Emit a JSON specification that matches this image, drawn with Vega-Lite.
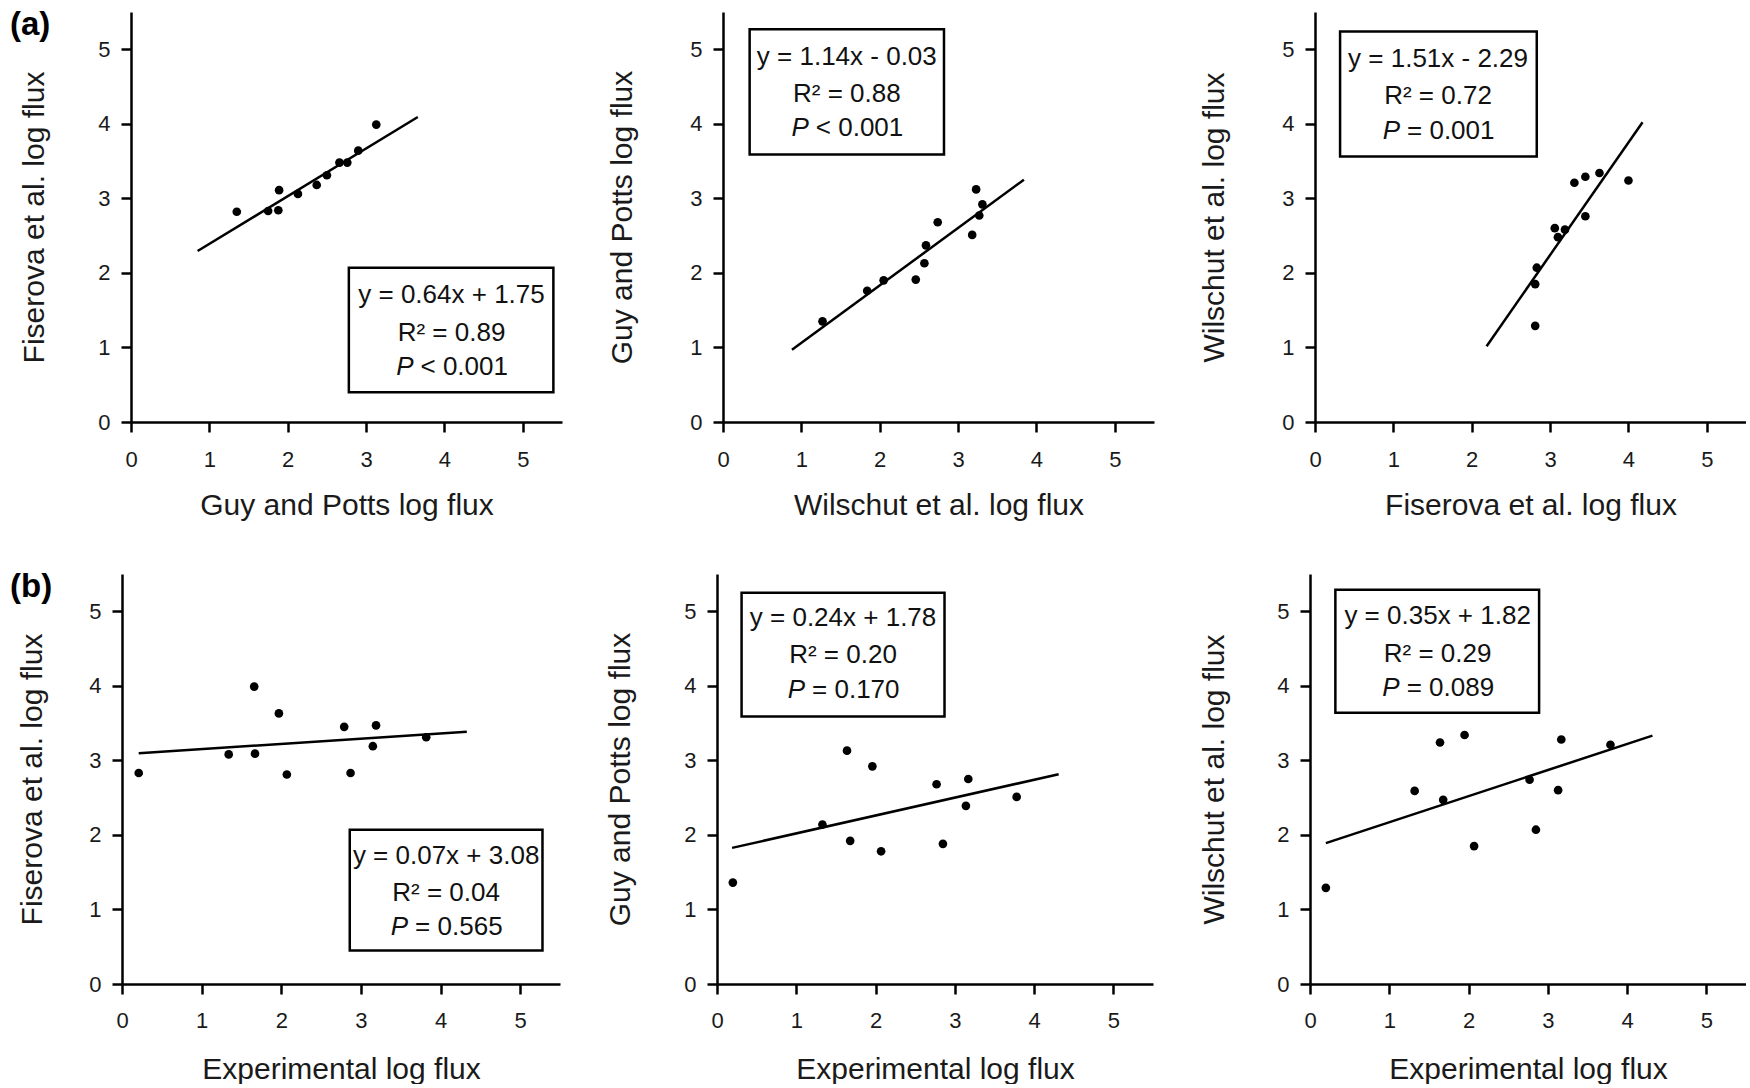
{
  "$schema": "https://vega.github.io/schema/vega-lite/v6.json",
  "background": "white",
  "padding": {"left": 10, "top": 9, "right": 0, "bottom": 0},
  "autosize": {"type": "pad"},
  "datasets": {
    "points": [
      {"panel": "a1", "x": 1.35, "y": 2.82}, {"panel": "a1", "x": 1.75, "y": 2.83}, {"panel": "a1", "x": 1.88, "y": 2.84},
      {"panel": "a1", "x": 1.89, "y": 3.11}, {"panel": "a1", "x": 2.13, "y": 3.06}, {"panel": "a1", "x": 2.37, "y": 3.18},
      {"panel": "a1", "x": 2.50, "y": 3.31}, {"panel": "a1", "x": 2.66, "y": 3.48}, {"panel": "a1", "x": 2.76, "y": 3.48},
      {"panel": "a1", "x": 2.90, "y": 3.64}, {"panel": "a1", "x": 3.13, "y": 3.99},

      {"panel": "a2", "x": 1.27, "y": 1.35}, {"panel": "a2", "x": 1.84, "y": 1.76}, {"panel": "a2", "x": 2.05, "y": 1.90},
      {"panel": "a2", "x": 2.46, "y": 1.91}, {"panel": "a2", "x": 2.57, "y": 2.13}, {"panel": "a2", "x": 2.59, "y": 2.37},
      {"panel": "a2", "x": 2.74, "y": 2.68}, {"panel": "a2", "x": 3.18, "y": 2.51}, {"panel": "a2", "x": 3.23, "y": 3.12},
      {"panel": "a2", "x": 3.27, "y": 2.77}, {"panel": "a2", "x": 3.31, "y": 2.92},

      {"panel": "a3", "x": 2.81, "y": 1.29}, {"panel": "a3", "x": 2.81, "y": 1.85}, {"panel": "a3", "x": 2.83, "y": 2.07},
      {"panel": "a3", "x": 3.06, "y": 2.60}, {"panel": "a3", "x": 3.10, "y": 2.48}, {"panel": "a3", "x": 3.19, "y": 2.58},
      {"panel": "a3", "x": 3.31, "y": 3.21}, {"panel": "a3", "x": 3.45, "y": 3.29}, {"panel": "a3", "x": 3.45, "y": 2.76},
      {"panel": "a3", "x": 3.63, "y": 3.34}, {"panel": "a3", "x": 4.00, "y": 3.24},

      {"panel": "b1", "x": 0.21, "y": 2.83}, {"panel": "b1", "x": 1.34, "y": 3.08}, {"panel": "b1", "x": 1.66, "y": 3.99},
      {"panel": "b1", "x": 1.67, "y": 3.09}, {"panel": "b1", "x": 1.97, "y": 3.63}, {"panel": "b1", "x": 2.07, "y": 2.81},
      {"panel": "b1", "x": 2.79, "y": 3.45}, {"panel": "b1", "x": 2.87, "y": 2.83}, {"panel": "b1", "x": 3.15, "y": 3.19},
      {"panel": "b1", "x": 3.19, "y": 3.47}, {"panel": "b1", "x": 3.82, "y": 3.31},

      {"panel": "b2", "x": 0.20, "y": 1.36}, {"panel": "b2", "x": 1.33, "y": 2.14}, {"panel": "b2", "x": 1.64, "y": 3.13},
      {"panel": "b2", "x": 1.68, "y": 1.92}, {"panel": "b2", "x": 1.96, "y": 2.92}, {"panel": "b2", "x": 2.07, "y": 1.78},
      {"panel": "b2", "x": 2.77, "y": 2.68}, {"panel": "b2", "x": 2.85, "y": 1.88}, {"panel": "b2", "x": 3.14, "y": 2.39},
      {"panel": "b2", "x": 3.17, "y": 2.75}, {"panel": "b2", "x": 3.78, "y": 2.51},

      {"panel": "b3", "x": 0.20, "y": 1.29}, {"panel": "b3", "x": 1.32, "y": 2.59}, {"panel": "b3", "x": 1.64, "y": 3.24},
      {"panel": "b3", "x": 1.68, "y": 2.47}, {"panel": "b3", "x": 1.95, "y": 3.34}, {"panel": "b3", "x": 2.07, "y": 1.85},
      {"panel": "b3", "x": 2.77, "y": 2.74}, {"panel": "b3", "x": 2.85, "y": 2.07}, {"panel": "b3", "x": 3.13, "y": 2.60},
      {"panel": "b3", "x": 3.17, "y": 3.28}, {"panel": "b3", "x": 3.79, "y": 3.21}
    ],
    "fits": [
      {"panel": "a1", "x": 0.85, "y": 2.294}, {"panel": "a1", "x": 3.66, "y": 4.092},
      {"panel": "a2", "x": 0.88, "y": 0.97}, {"panel": "a2", "x": 3.84, "y": 3.25},
      {"panel": "a3", "x": 2.19, "y": 1.017}, {"panel": "a3", "x": 4.18, "y": 4.022},
      {"panel": "b1", "x": 0.21, "y": 3.095}, {"panel": "b1", "x": 4.33, "y": 3.383},
      {"panel": "b2", "x": 0.19, "y": 1.826}, {"panel": "b2", "x": 4.31, "y": 2.814},
      {"panel": "b3", "x": 0.20, "y": 1.89}, {"panel": "b3", "x": 4.32, "y": 3.332}
    ],
    "stats": [
      {"panel": "a1", "eq": "y = 0.64x + 1.75", "r2": "R² = 0.89", "p": "< 0.001"},
      {"panel": "a2", "eq": "y = 1.14x - 0.03", "r2": "R² = 0.88", "p": "< 0.001"},
      {"panel": "a3", "eq": "y = 1.51x - 2.29", "r2": "R² = 0.72", "p": "= 0.001"},
      {"panel": "b1", "eq": "y = 0.07x + 3.08", "r2": "R² = 0.04", "p": "= 0.565"},
      {"panel": "b2", "eq": "y = 0.24x + 1.78", "r2": "R² = 0.20", "p": "= 0.170"},
      {"panel": "b3", "eq": "y = 0.35x + 1.82", "r2": "R² = 0.29", "p": "= 0.089"}
    ]
  },
  "vconcat": [
    {
      "hconcat": [
        {
          "width": 440, "height": 410,
          "title": {"text": "(a)", "anchor": "start", "frame": "group", "dx": -112, "offset": 0, "baseline": "top", "dy": 30},
          "layer": [
            {"data": {"name": "points"}, "transform": [{"filter": "datum.panel === 'a1'"}],
             "mark": {"type": "circle", "size": 75, "color": "#000", "opacity": 1},
             "encoding": {
               "x": {"field": "x", "type": "quantitative", "scale": {"domain": [0, 5.5], "nice": false, "range": [9, 440]}, "axis": {"title": "Guy and Potts log flux", "values": [0, 1, 2, 3, 4, 5], "format": "d", "labelPadding": 17, "titlePadding": 20}},
               "y": {"field": "y", "type": "quantitative", "scale": {"domain": [0, 5.5], "nice": false}, "axis": {"title": "Fiserova et al. log flux", "values": [0, 1, 2, 3, 4, 5], "format": "d", "titlePadding": 48, "offset": -9}}}},
            {"data": {"name": "fits"}, "transform": [{"filter": "datum.panel === 'a1'"}],
             "mark": {"type": "line", "color": "#000", "strokeWidth": 2.5},
             "encoding": {"x": {"field": "x", "type": "quantitative"}, "y": {"field": "y", "type": "quantitative"}}},
            {"data": {"name": "stats"}, "transform": [{"filter": "datum.panel === 'a1'"}],
             "mark": {"type": "rect", "fill": "#fff", "stroke": "#000", "strokeWidth": 2.5},
             "encoding": {"x": {"datum": 2.78, "type": "quantitative"}, "x2": {"datum": 5.39}, "y": {"datum": 0.40, "type": "quantitative"}, "y2": {"datum": 2.07}}},
            {"data": {"name": "stats"}, "transform": [{"filter": "datum.panel === 'a1'"}],
             "mark": {"type": "text", "baseline": "middle"},
             "encoding": {"x": {"datum": 4.09, "type": "quantitative"}, "y": {"datum": 1.70, "type": "quantitative"}, "text": {"field": "eq"}}},
            {"data": {"name": "stats"}, "transform": [{"filter": "datum.panel === 'a1'"}],
             "mark": {"type": "text", "baseline": "middle"},
             "encoding": {"x": {"datum": 4.09, "type": "quantitative"}, "y": {"datum": 1.20, "type": "quantitative"}, "text": {"field": "r2"}}},
            {"data": {"name": "stats"}, "transform": [{"filter": "datum.panel === 'a1'"}],
             "mark": {"type": "text", "baseline": "middle", "align": "right", "fontStyle": "italic", "dx": -38, "text": "P"},
             "encoding": {"x": {"datum": 4.09, "type": "quantitative"}, "y": {"datum": 0.74, "type": "quantitative"}}},
            {"data": {"name": "stats"}, "transform": [{"filter": "datum.panel === 'a1'"}],
             "mark": {"type": "text", "baseline": "middle", "align": "left", "dx": -31},
             "encoding": {"x": {"datum": 4.09, "type": "quantitative"}, "y": {"datum": 0.74, "type": "quantitative"}, "text": {"field": "p"}}}
          ]
        },
        {
          "width": 431, "height": 410,
          "layer": [
            {"data": {"name": "points"}, "transform": [{"filter": "datum.panel === 'a2'"}],
             "mark": {"type": "circle", "size": 75, "color": "#000", "opacity": 1},
             "encoding": {
               "x": {"field": "x", "type": "quantitative", "scale": {"domain": [0, 5.5], "nice": false}, "axis": {"title": "Wilschut et al. log flux", "values": [0, 1, 2, 3, 4, 5], "format": "d", "labelPadding": 17, "titlePadding": 20}},
               "y": {"field": "y", "type": "quantitative", "scale": {"domain": [0, 5.5], "nice": false}, "axis": {"title": "Guy and Potts log flux", "values": [0, 1, 2, 3, 4, 5], "format": "d", "titlePadding": 52}}}},
            {"data": {"name": "fits"}, "transform": [{"filter": "datum.panel === 'a2'"}],
             "mark": {"type": "line", "color": "#000", "strokeWidth": 2.5},
             "encoding": {"x": {"field": "x", "type": "quantitative"}, "y": {"field": "y", "type": "quantitative"}}},
            {"data": {"name": "stats"}, "transform": [{"filter": "datum.panel === 'a2'"}],
             "mark": {"type": "rect", "fill": "#fff", "stroke": "#000", "strokeWidth": 2.5},
             "encoding": {"x": {"datum": 0.34, "type": "quantitative"}, "x2": {"datum": 2.82}, "y": {"datum": 3.59, "type": "quantitative"}, "y2": {"datum": 5.27}}},
            {"data": {"name": "stats"}, "transform": [{"filter": "datum.panel === 'a2'"}],
             "mark": {"type": "text", "baseline": "middle"},
             "encoding": {"x": {"datum": 1.58, "type": "quantitative"}, "y": {"datum": 4.90, "type": "quantitative"}, "text": {"field": "eq"}}},
            {"data": {"name": "stats"}, "transform": [{"filter": "datum.panel === 'a2'"}],
             "mark": {"type": "text", "baseline": "middle"},
             "encoding": {"x": {"datum": 1.58, "type": "quantitative"}, "y": {"datum": 4.40, "type": "quantitative"}, "text": {"field": "r2"}}},
            {"data": {"name": "stats"}, "transform": [{"filter": "datum.panel === 'a2'"}],
             "mark": {"type": "text", "baseline": "middle", "align": "right", "fontStyle": "italic", "dx": -38, "text": "P"},
             "encoding": {"x": {"datum": 1.58, "type": "quantitative"}, "y": {"datum": 3.94, "type": "quantitative"}}},
            {"data": {"name": "stats"}, "transform": [{"filter": "datum.panel === 'a2'"}],
             "mark": {"type": "text", "baseline": "middle", "align": "left", "dx": -31},
             "encoding": {"x": {"datum": 1.58, "type": "quantitative"}, "y": {"datum": 3.94, "type": "quantitative"}, "text": {"field": "p"}}}
          ]
        },
        {
          "width": 431, "height": 410,
          "layer": [
            {"data": {"name": "points"}, "transform": [{"filter": "datum.panel === 'a3'"}],
             "mark": {"type": "circle", "size": 75, "color": "#000", "opacity": 1},
             "encoding": {
               "x": {"field": "x", "type": "quantitative", "scale": {"domain": [0, 5.5], "nice": false}, "axis": {"title": "Fiserova et al. log flux", "values": [0, 1, 2, 3, 4, 5], "format": "d", "labelPadding": 17, "titlePadding": 20}},
               "y": {"field": "y", "type": "quantitative", "scale": {"domain": [0, 5.5], "nice": false}, "axis": {"title": "Wilschut et al. log flux", "values": [0, 1, 2, 3, 4, 5], "format": "d", "titlePadding": 52}}}},
            {"data": {"name": "fits"}, "transform": [{"filter": "datum.panel === 'a3'"}],
             "mark": {"type": "line", "color": "#000", "strokeWidth": 2.5},
             "encoding": {"x": {"field": "x", "type": "quantitative"}, "y": {"field": "y", "type": "quantitative"}}},
            {"data": {"name": "stats"}, "transform": [{"filter": "datum.panel === 'a3'"}],
             "mark": {"type": "rect", "fill": "#fff", "stroke": "#000", "strokeWidth": 2.5},
             "encoding": {"x": {"datum": 0.32, "type": "quantitative"}, "x2": {"datum": 2.83}, "y": {"datum": 3.56, "type": "quantitative"}, "y2": {"datum": 5.24}}},
            {"data": {"name": "stats"}, "transform": [{"filter": "datum.panel === 'a3'"}],
             "mark": {"type": "text", "baseline": "middle"},
             "encoding": {"x": {"datum": 1.57, "type": "quantitative"}, "y": {"datum": 4.87, "type": "quantitative"}, "text": {"field": "eq"}}},
            {"data": {"name": "stats"}, "transform": [{"filter": "datum.panel === 'a3'"}],
             "mark": {"type": "text", "baseline": "middle"},
             "encoding": {"x": {"datum": 1.57, "type": "quantitative"}, "y": {"datum": 4.37, "type": "quantitative"}, "text": {"field": "r2"}}},
            {"data": {"name": "stats"}, "transform": [{"filter": "datum.panel === 'a3'"}],
             "mark": {"type": "text", "baseline": "middle", "align": "right", "fontStyle": "italic", "dx": -38, "text": "P"},
             "encoding": {"x": {"datum": 1.57, "type": "quantitative"}, "y": {"datum": 3.91, "type": "quantitative"}}},
            {"data": {"name": "stats"}, "transform": [{"filter": "datum.panel === 'a3'"}],
             "mark": {"type": "text", "baseline": "middle", "align": "left", "dx": -31},
             "encoding": {"x": {"datum": 1.57, "type": "quantitative"}, "y": {"datum": 3.91, "type": "quantitative"}, "text": {"field": "p"}}}
          ]
        }
      ],
      "spacing": 161,
      "bounds": "flush"
    },
    {
      "hconcat": [
        {
          "width": 438, "height": 410,
          "title": {"text": "(b)", "anchor": "start", "frame": "group", "dx": -112, "offset": 0, "baseline": "top", "dy": 30},
          "layer": [
            {"data": {"name": "points"}, "transform": [{"filter": "datum.panel === 'b1'"}],
             "mark": {"type": "circle", "size": 75, "color": "#000", "opacity": 1},
             "encoding": {
               "x": {"field": "x", "type": "quantitative", "scale": {"domain": [0, 5.5], "nice": false}, "axis": {"title": "Experimental log flux", "values": [0, 1, 2, 3, 4, 5], "format": "d", "labelPadding": 16, "titlePadding": 23}},
               "y": {"field": "y", "type": "quantitative", "scale": {"domain": [0, 5.5], "nice": false}, "axis": {"title": "Fiserova et al. log flux", "values": [0, 1, 2, 3, 4, 5], "format": "d", "titlePadding": 41}}}},
            {"data": {"name": "fits"}, "transform": [{"filter": "datum.panel === 'b1'"}],
             "mark": {"type": "line", "color": "#000", "strokeWidth": 2.5},
             "encoding": {"x": {"field": "x", "type": "quantitative"}, "y": {"field": "y", "type": "quantitative"}}},
            {"data": {"name": "stats"}, "transform": [{"filter": "datum.panel === 'b1'"}],
             "mark": {"type": "rect", "fill": "#fff", "stroke": "#000", "strokeWidth": 2.5},
             "encoding": {"x": {"datum": 2.86, "type": "quantitative"}, "x2": {"datum": 5.28}, "y": {"datum": 0.45, "type": "quantitative"}, "y2": {"datum": 2.07}}},
            {"data": {"name": "stats"}, "transform": [{"filter": "datum.panel === 'b1'"}],
             "mark": {"type": "text", "baseline": "middle"},
             "encoding": {"x": {"datum": 4.07, "type": "quantitative"}, "y": {"datum": 1.72, "type": "quantitative"}, "text": {"field": "eq"}}},
            {"data": {"name": "stats"}, "transform": [{"filter": "datum.panel === 'b1'"}],
             "mark": {"type": "text", "baseline": "middle"},
             "encoding": {"x": {"datum": 4.07, "type": "quantitative"}, "y": {"datum": 1.22, "type": "quantitative"}, "text": {"field": "r2"}}},
            {"data": {"name": "stats"}, "transform": [{"filter": "datum.panel === 'b1'"}],
             "mark": {"type": "text", "baseline": "middle", "align": "right", "fontStyle": "italic", "dx": -38, "text": "P"},
             "encoding": {"x": {"datum": 4.07, "type": "quantitative"}, "y": {"datum": 0.76, "type": "quantitative"}}},
            {"data": {"name": "stats"}, "transform": [{"filter": "datum.panel === 'b1'"}],
             "mark": {"type": "text", "baseline": "middle", "align": "left", "dx": -31},
             "encoding": {"x": {"datum": 4.07, "type": "quantitative"}, "y": {"datum": 0.76, "type": "quantitative"}, "text": {"field": "p"}}}
          ]
        },
        {
          "width": 436, "height": 410,
          "layer": [
            {"data": {"name": "points"}, "transform": [{"filter": "datum.panel === 'b2'"}],
             "mark": {"type": "circle", "size": 75, "color": "#000", "opacity": 1},
             "encoding": {
               "x": {"field": "x", "type": "quantitative", "scale": {"domain": [0, 5.5], "nice": false}, "axis": {"title": "Experimental log flux", "values": [0, 1, 2, 3, 4, 5], "format": "d", "labelPadding": 16, "titlePadding": 23}},
               "y": {"field": "y", "type": "quantitative", "scale": {"domain": [0, 5.5], "nice": false}, "axis": {"title": "Guy and Potts log flux", "values": [0, 1, 2, 3, 4, 5], "format": "d", "titlePadding": 48}}}},
            {"data": {"name": "fits"}, "transform": [{"filter": "datum.panel === 'b2'"}],
             "mark": {"type": "line", "color": "#000", "strokeWidth": 2.5},
             "encoding": {"x": {"field": "x", "type": "quantitative"}, "y": {"field": "y", "type": "quantitative"}}},
            {"data": {"name": "stats"}, "transform": [{"filter": "datum.panel === 'b2'"}],
             "mark": {"type": "rect", "fill": "#fff", "stroke": "#000", "strokeWidth": 2.5},
             "encoding": {"x": {"datum": 0.31, "type": "quantitative"}, "x2": {"datum": 2.87}, "y": {"datum": 3.59, "type": "quantitative"}, "y2": {"datum": 5.25}}},
            {"data": {"name": "stats"}, "transform": [{"filter": "datum.panel === 'b2'"}],
             "mark": {"type": "text", "baseline": "middle"},
             "encoding": {"x": {"datum": 1.59, "type": "quantitative"}, "y": {"datum": 4.91, "type": "quantitative"}, "text": {"field": "eq"}}},
            {"data": {"name": "stats"}, "transform": [{"filter": "datum.panel === 'b2'"}],
             "mark": {"type": "text", "baseline": "middle"},
             "encoding": {"x": {"datum": 1.59, "type": "quantitative"}, "y": {"datum": 4.41, "type": "quantitative"}, "text": {"field": "r2"}}},
            {"data": {"name": "stats"}, "transform": [{"filter": "datum.panel === 'b2'"}],
             "mark": {"type": "text", "baseline": "middle", "align": "right", "fontStyle": "italic", "dx": -38, "text": "P"},
             "encoding": {"x": {"datum": 1.59, "type": "quantitative"}, "y": {"datum": 3.95, "type": "quantitative"}}},
            {"data": {"name": "stats"}, "transform": [{"filter": "datum.panel === 'b2'"}],
             "mark": {"type": "text", "baseline": "middle", "align": "left", "dx": -31},
             "encoding": {"x": {"datum": 1.59, "type": "quantitative"}, "y": {"datum": 3.95, "type": "quantitative"}, "text": {"field": "p"}}}
          ]
        },
        {
          "width": 436, "height": 410,
          "layer": [
            {"data": {"name": "points"}, "transform": [{"filter": "datum.panel === 'b3'"}],
             "mark": {"type": "circle", "size": 75, "color": "#000", "opacity": 1},
             "encoding": {
               "x": {"field": "x", "type": "quantitative", "scale": {"domain": [0, 5.5], "nice": false}, "axis": {"title": "Experimental log flux", "values": [0, 1, 2, 3, 4, 5], "format": "d", "labelPadding": 16, "titlePadding": 23}},
               "y": {"field": "y", "type": "quantitative", "scale": {"domain": [0, 5.5], "nice": false}, "axis": {"title": "Wilschut et al. log flux", "values": [0, 1, 2, 3, 4, 5], "format": "d", "titlePadding": 47}}}},
            {"data": {"name": "fits"}, "transform": [{"filter": "datum.panel === 'b3'"}],
             "mark": {"type": "line", "color": "#000", "strokeWidth": 2.5},
             "encoding": {"x": {"field": "x", "type": "quantitative"}, "y": {"field": "y", "type": "quantitative"}}},
            {"data": {"name": "stats"}, "transform": [{"filter": "datum.panel === 'b3'"}],
             "mark": {"type": "rect", "fill": "#fff", "stroke": "#000", "strokeWidth": 2.5},
             "encoding": {"x": {"datum": 0.32, "type": "quantitative"}, "x2": {"datum": 2.89}, "y": {"datum": 3.64, "type": "quantitative"}, "y2": {"datum": 5.29}}},
            {"data": {"name": "stats"}, "transform": [{"filter": "datum.panel === 'b3'"}],
             "mark": {"type": "text", "baseline": "middle"},
             "encoding": {"x": {"datum": 1.61, "type": "quantitative"}, "y": {"datum": 4.93, "type": "quantitative"}, "text": {"field": "eq"}}},
            {"data": {"name": "stats"}, "transform": [{"filter": "datum.panel === 'b3'"}],
             "mark": {"type": "text", "baseline": "middle"},
             "encoding": {"x": {"datum": 1.61, "type": "quantitative"}, "y": {"datum": 4.43, "type": "quantitative"}, "text": {"field": "r2"}}},
            {"data": {"name": "stats"}, "transform": [{"filter": "datum.panel === 'b3'"}],
             "mark": {"type": "text", "baseline": "middle", "align": "right", "fontStyle": "italic", "dx": -38, "text": "P"},
             "encoding": {"x": {"datum": 1.61, "type": "quantitative"}, "y": {"datum": 3.97, "type": "quantitative"}}},
            {"data": {"name": "stats"}, "transform": [{"filter": "datum.panel === 'b3'"}],
             "mark": {"type": "text", "baseline": "middle", "align": "left", "dx": -31},
             "encoding": {"x": {"datum": 1.61, "type": "quantitative"}, "y": {"datum": 3.97, "type": "quantitative"}, "text": {"field": "p"}}}
          ]
        }
      ],
      "spacing": 157,
      "bounds": "flush"
    }
  ],
  "spacing": 51,
  "config": {
    "font": "Liberation Sans",
    "view": {"stroke": null},
    "axis": {
      "grid": false,
      "domainColor": "#000", "domainWidth": 2.5,
      "tickColor": "#000", "tickWidth": 2.5, "tickSize": 10,
      "labelFont": "Liberation Sans", "labelFontSize": 22, "labelColor": "#1a1a1a",
      "labelFlush": false, "labelOverlap": false,
      "titleFont": "Liberation Sans", "titleFontSize": 30, "titleFontWeight": "normal", "titleColor": "#1a1a1a"
    },
    "axisX": {"labelPadding": 15, "titlePadding": 19},
    "axisY": {"labelPadding": 11, "titlePadding": 47},
    "title": {"font": "Liberation Sans", "fontSize": 33, "fontWeight": "bold", "color": "#000"},
    "text": {"font": "Liberation Sans", "fontSize": 26, "color": "#111"}
  }
}
